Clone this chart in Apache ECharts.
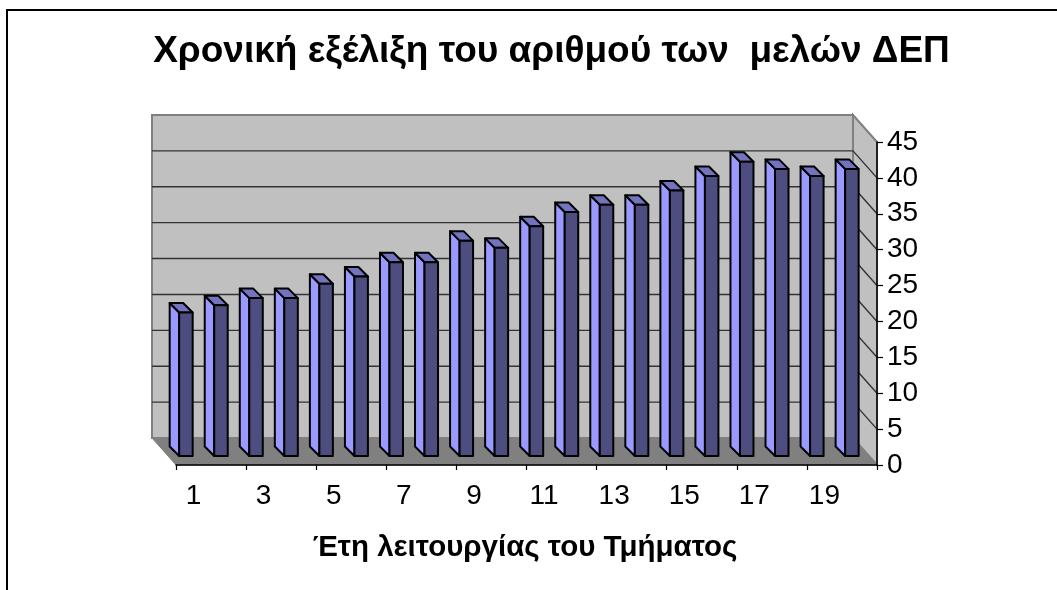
<!DOCTYPE html>
<html><head><meta charset="utf-8">
<style>html,body{margin:0;padding:0;background:#fff}#c{width:1057px;height:590px}</style>
<script src="https://cdn.jsdelivr.net/npm/echarts@6/dist/echarts.min.js"></script>
</head><body><div id="c"></div>
<script>
const years = ['1','2','3','4','5','6','7','8','9','10','11','12','13','14','15','16','17','18','19','20'];
const members = [20,21,22,22,24,25,27,27,30,29,32,34,35,35,37,39,41,40,39,40];
const gridValues = [5,10,15,20,25,30,35,40];
const titleText = 'Χρονική εξέλιξη του αριθμού των  μελών ΔΕΠ';
const xName = 'Έτη λειτουργίας του Τμήματος';

const DEPTH_X = 24, DEPTH_Y = 27;
const FONT = '"Liberation Sans", Arial, sans-serif';

function wallItem(params, api) {
  const c = params.coordSys;
  const L = c.x, R = c.x + c.width, T = c.y, B = c.y + c.height;
  const dx = DEPTH_X, dy = DEPTH_Y;
  const kids = [
    {type:'polygon', shape:{points:[[L-dx,T-dy],[R-dx,T-dy],[R-dx,B-dy],[L-dx,B-dy]]},
     style:{fill:'#c0c0c0', stroke:'#808080', lineWidth:2}},
    {type:'polygon', shape:{points:[[R-dx,T-dy],[R,T],[R,B],[R-dx,B-dy]]},
     style:{fill:'#c0c0c0', stroke:'#808080', lineWidth:2}}
  ];
  gridValues.forEach(v => {
    const y = api.coord([0, v])[1];
    kids.push({type:'polyline', shape:{points:[[L-dx,y-dy],[R-dx,y-dy],[R,y]]},
      style:{fill:null, stroke:'#333333', lineWidth:1.4}});
  });
  kids.push({type:'polygon', shape:{points:[[L-dx,B-dy],[R-dx,B-dy],[R,B],[L,B]]},
    style:{fill:'#808080', stroke:'#808080', lineWidth:1}});
  return {type:'group', children:kids};
}

function barItem(params, api) {
  const i = api.value(0), v = api.value(1);
  const base = api.coord([i, 0]), top = api.coord([i, v]);
  const w = 13.5, ox = -7.6, oy = -9, d = 9.5;
  const x0 = base[0] - w/2 + ox, x1 = x0 + w;
  const yB = base[1] + oy, yT = top[1] + oy;
  const st = f => ({fill:f, stroke:'#000', lineWidth:2, lineJoin:'round'});
  return {type:'group', children:[
    {type:'polygon', shape:{points:[[x0,yT],[x0-d,yT-d],[x0-d,yB-d],[x0,yB]]}, style:st('#9999ff')},
    {type:'polygon', shape:{points:[[x0,yT],[x0-d,yT-d],[x1-d,yT-d],[x1,yT]]}, style:st('#7373bf')},
    {type:'polygon', shape:{points:[[x0,yT],[x1,yT],[x1,yB],[x0,yB]]}, style:st('#4d4d80')}
  ]};
}

const chart = echarts.init(document.getElementById('c'), null, {renderer:'canvas'});
chart.setOption({
  animation:false,
  backgroundColor:'#fff',
  title:{text:titleText, left:546.5, top:28, textAlign:'center',
    textStyle:{fontFamily:FONT, fontSize:37, fontWeight:'bold', color:'#000'}},
  grid:{left:176, top:142, width:701, height:323, containLabel:false},
  xAxis:{type:'category', data:years, position:'bottom', z:5,
    axisLine:{lineStyle:{color:'#000', width:1.5}},
    axisTick:{show:true, length:5, alignWithLabel:false, lineStyle:{color:'#000', width:1.2}},
    axisLabel:{interval:1, margin:17, fontFamily:FONT, fontSize:28, color:'#000'},
    name:xName, nameLocation:'middle', nameGap:68,
    nameTextStyle:{fontFamily:FONT, fontSize:29.5, fontWeight:'bold', color:'#000', padding:[0,3,0,0]}},
  yAxis:{type:'value', min:0, max:45, interval:5, position:'right', z:5,
    axisLine:{show:true, lineStyle:{color:'#000', width:1.5}},
    axisTick:{show:true, length:6, lineStyle:{color:'#000', width:1.2}},
    axisLabel:{margin:10, fontFamily:FONT, fontSize:28, color:'#000'},
    splitLine:{show:false}},
  series:[
    {type:'custom', z:1, silent:true, coordinateSystem:'cartesian2d', renderItem:wallItem, data:[[0,0]], clip:false},
    {type:'custom', z:2, coordinateSystem:'cartesian2d', renderItem:barItem, clip:false,
      encode:{x:0,y:1}, data:members.map((v,i)=>[i,v])}
  ],
  graphic:[{type:'polyline', silent:true, z:10,
    shape:{points:[[7,600],[7,10],[1060,10]]},
    style:{fill:null, stroke:'#000', lineWidth:2}}]
});
</script></body></html>
